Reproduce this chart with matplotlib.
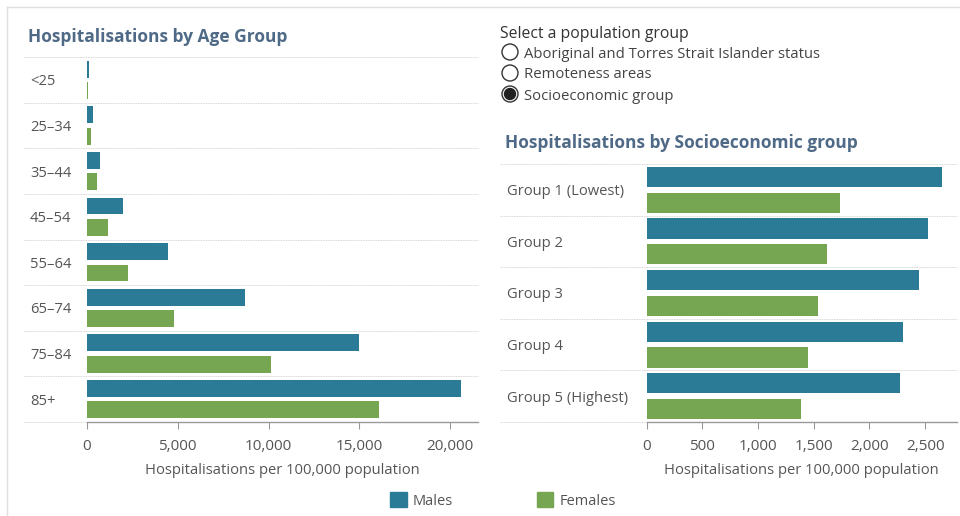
import numpy as np
import matplotlib
matplotlib.use("Agg")
import matplotlib.pyplot as plt
from matplotlib.patches import Circle, Rectangle
from matplotlib.ticker import FuncFormatter

plt.rcParams['font.family'] = ['Open Sans', 'DejaVu Sans']

# data
age_groups = ['<25', '25–34', '35–44', '45–54', '55–64', '65–74', '75–84', '85+']
age_males = [90, 310, 690, 1980, 4450, 8680, 14960, 20590]
age_females = [60, 220, 570, 1170, 2250, 4810, 10130, 16100]

ses_groups = ['Group 1 (Lowest)', 'Group 2', 'Group 3', 'Group 4', 'Group 5 (Highest)']
ses_males = [2649, 2529, 2448, 2304, 2275]
ses_females = [1736, 1616, 1538, 1451, 1386]

options = ['Aboriginal and Torres Strait Islander status', 'Remoteness areas', 'Socioeconomic group']
selected = 2

male_col = '#2b7b97'
female_col = '#76a652'
title_col = '#4f6a86'
text_col = '#555555'
grid_col = '#c8c8c8'

fig = plt.figure(figsize=(9.6, 5.16), dpi=100)

# overlay in pixel coords for titles, radio buttons, legend
bg = fig.add_axes([0, 0, 1, 1])
bg.set_xlim(0, 960)
bg.set_ylim(516, 0)
bg.axis('off')
bg.plot([7, 960], [7, 7], color='#e0e0e0', lw=1)
bg.plot([7, 7], [7, 516], color='#e0e0e0', lw=1)

bg.text(28, 35, 'Hospitalisations by Age Group', fontsize=12.5, fontweight='bold',
        color=title_col, va='center_baseline')
bg.text(505, 141, 'Hospitalisations by Socioeconomic group', fontsize=12.5, fontweight='bold',
        color=title_col, va='center_baseline')

bg.text(500, 32, 'Select a population group', fontsize=11.3, color='#333333',
        va='center_baseline')
for i, opt in enumerate(options):
    y = 52 + i * 21
    bg.add_patch(Circle((510, y), 8, fill=False, ec='#333333', lw=1))
    if i == selected:
        bg.add_patch(Circle((510, y), 5.5, color='#222222'))
    bg.text(524, y, opt, fontsize=10.7, color='#444444', va='center_baseline')

# legend
bg.add_patch(Rectangle((390, 491.5), 16.5, 15, color=male_col))
bg.text(413, 499.5, 'Males', fontsize=10.5, color=text_col, va='center_baseline')
bg.add_patch(Rectangle((536.5, 491.5), 16.5, 15, color=female_col))
bg.text(560, 499.5, 'Females', fontsize=10.5, color=text_col, va='center_baseline')


def draw_panel(ax, cats, males, females, xmax, ticks, off, h, line_x0, label_x):
    y = np.arange(len(cats))
    ax.barh(y - off, males, height=h, color=male_col)
    ax.barh(y + off, females, height=h, color=female_col)
    ax.set_ylim(len(cats) - 0.5, -0.5)
    ax.set_xlim(0, xmax)
    ax.set_xticks(ticks)
    ax.xaxis.set_major_formatter(FuncFormatter(lambda v, p: f'{int(v):,}'))
    ax.tick_params(axis='x', colors='#999999', labelcolor=text_col, labelsize=11,
                   length=5, width=0.8, pad=7)
    ax.set_yticks([])
    for s in ['top', 'right', 'left']:
        ax.spines[s].set_visible(False)
    ax.spines['bottom'].set_color('#999999')
    ax.spines['bottom'].set_linewidth(1)
    tr = ax.get_yaxis_transform()
    for b in np.arange(len(cats) + 1) - 0.5:
        ax.plot([line_x0, 1], [b, b], transform=tr, color=grid_col, lw=0.6,
                ls=(0, (1, 1)), clip_on=False, zorder=0)
    for i, c in enumerate(cats):
        ax.text(label_x, i, c, transform=tr, fontsize=10.6, color=text_col,
                va='center_baseline', ha='left')
    ax.set_xlabel('Hospitalisations per 100,000 population', fontsize=10.6,
                  color=text_col, labelpad=7)


ax1 = fig.add_axes([87 / 960, 1 - 422 / 516, 391 / 960, 365 / 516])
draw_panel(ax1, age_groups, age_males, age_females, 21530,
           [0, 5000, 10000, 15000, 20000], 0.235, 0.37,
           (24 - 87) / 391, (30 - 87) / 391)

ax2 = fig.add_axes([646.7 / 960, 1 - 422 / 516, 310 / 960, 258 / 516])
draw_panel(ax2, ses_groups, ses_males, ses_females, 2784,
           [0, 500, 1000, 1500, 2000, 2500], 0.25, 0.39,
           (500 - 646.7) / 310, (507 - 646.7) / 310)

fig.savefig('out.png', dpi=100)
